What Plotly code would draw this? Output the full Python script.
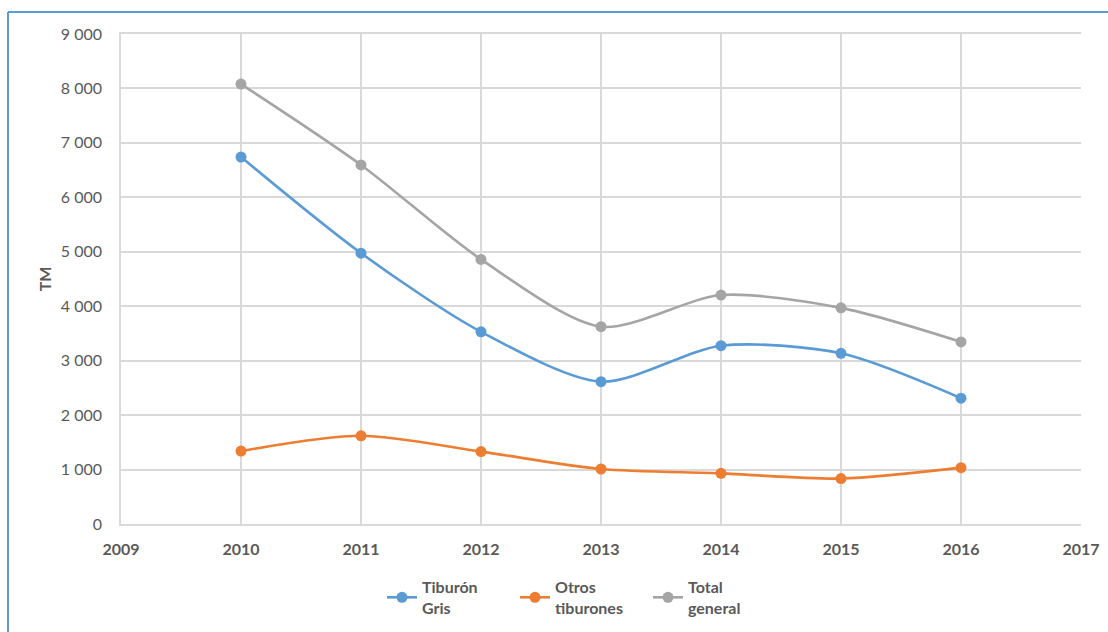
import plotly.graph_objects as go

# Capturas anuales de tiburón (toneladas métricas)
years = [2010, 2011, 2012, 2013, 2014, 2015, 2016]
tiburon_gris = [6740, 4975, 3530, 2615, 3275, 3135, 2310]
otros_tiburones = [1340, 1620, 1330, 1010, 930, 835, 1035]
total_general = [8080, 6595, 4860, 3625, 4205, 3970, 3345]

series_names = ["Tiburón<br>Gris", "Otros<br>tiburones", "Total<br>general"]
series_colors = ["#5B9BD5", "#ED7D31", "#A5A5A5"]
series_values = [tiburon_gris, otros_tiburones, total_general]

x_ticks = list(range(2009, 2018))
y_ticks = list(range(0, 10000, 1000))

FONT = "Lato, 'Open Sans', sans-serif"
TEXT = "#595959"
GRID = "#D9D9D9"

fig = go.Figure()
for name, color, vals in zip(series_names, series_colors, series_values):
    fig.add_trace(go.Scatter(
        x=years, y=vals, name=name, mode="lines+markers",
        line=dict(color=color, width=2.6, shape="spline", smoothing=0.8),
        marker=dict(color=color, size=11),
    ))

# plot-area geometry in pixels
L, R, T, B = 121, 27, 34, 108
W, H = 1108, 632
pw, ph = W - L - R, H - T - B

def px_x(p):
    return (p - L) / pw

def px_y(p):
    return (H - B - p) / ph

fig.update_layout(
    width=W, height=H,
    margin=dict(l=L, r=R, t=T, b=B, autoexpand=False),
    paper_bgcolor="white", plot_bgcolor="white",
    separators=". ",
    font=dict(family=FONT, color=TEXT, size=16),
    showlegend=True,
    legend=dict(
        orientation="h", x=px_x(382), xanchor="left",
        y=px_y(570), yanchor="top",
        font=dict(family=FONT, size=16, color=TEXT, weight="bold"),
        entrywidth=88, entrywidthmode="pixels",
        itemwidth=30, bgcolor="rgba(0,0,0,0)",
    ),
    xaxis=dict(
        range=[2009, 2017], tickvals=x_ticks, tickformat="d",
        showgrid=True, gridcolor=GRID, gridwidth=1.5,
        showline=True, linecolor=GRID, linewidth=1.5, mirror=True,
        zeroline=False, ticks="", ticklabelstandoff=10,
        tickfont=dict(family=FONT, size=16, color=TEXT, weight="bold"),
    ),
    yaxis=dict(
        range=[0, 9000], tickvals=y_ticks, tickformat=",d",
        showgrid=True, gridcolor=GRID, gridwidth=1.5,
        showline=True, linecolor=GRID, linewidth=1.5,
        zeroline=False, ticks="", ticklabelstandoff=14,
        tickfont=dict(family=FONT, size=16, color=TEXT),
        title=dict(text="TM", standoff=5,
                   font=dict(family=FONT, size=16, color=TEXT, weight="bold")),
    ),
    shapes=[
        dict(type="line", xref="paper", yref="paper",
             x0=px_x(8), x1=px_x(8), y0=px_y(12), y1=px_y(640),
             line=dict(color="#5B9BD5", width=2)),
        dict(type="line", xref="paper", yref="paper",
             x0=px_x(8), x1=px_x(1120), y0=px_y(12), y1=px_y(12),
             line=dict(color="#5B9BD5", width=2)),
    ],
)

fig.write_html("out.html")
